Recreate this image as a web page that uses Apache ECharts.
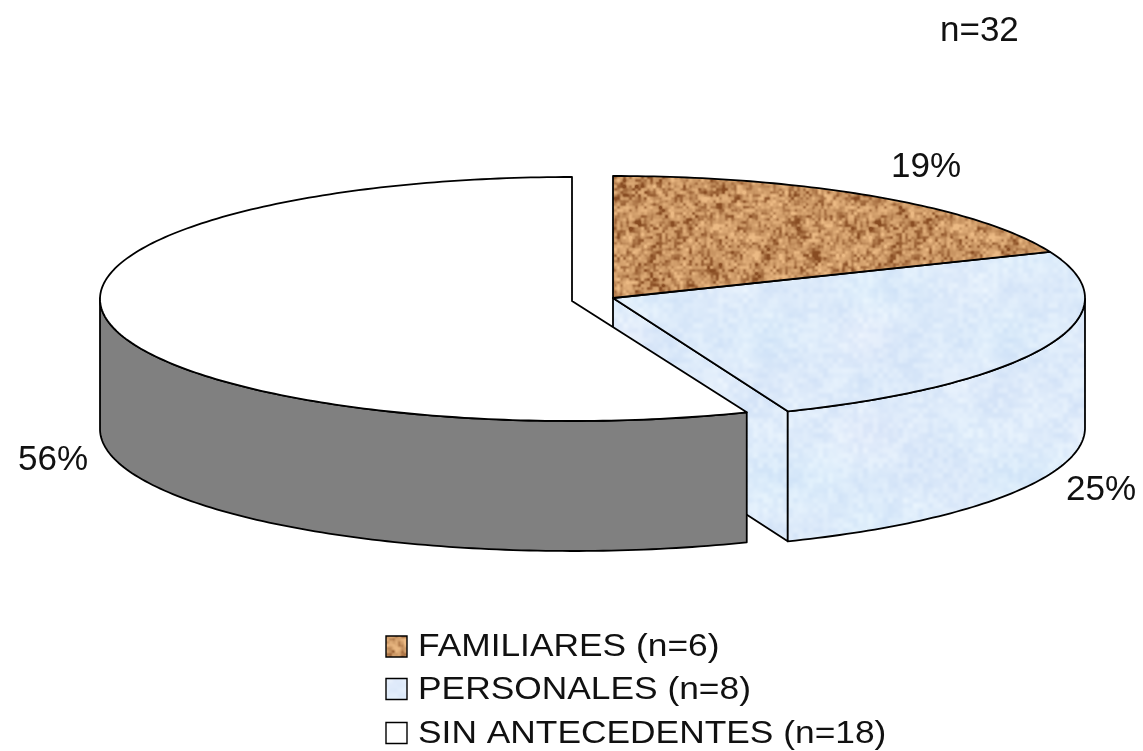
<!DOCTYPE html>
<html>
<head>
<meta charset="utf-8">
<style>
  html, body { margin: 0; padding: 0; background: #fff; }
  #chart { width: 1143px; height: 751px; }
</style>
<script src="https://cdn.jsdelivr.net/npm/echarts@6/dist/echarts.min.js"></script>
</head>
<body>
<div id="chart"></div>
<script>
// Antecedentes: casos por grupo
const categories = ['FAMILIARES', 'PERSONALES', 'SIN ANTECEDENTES'];
const cases = [6, 8, 18];

const total = cases.reduce((a, b) => a + b, 0);
const FONT = '"Liberation Sans", Arial, sans-serif';

// Pie projection: an ellipse for the top face, extruded downwards.
const RX = 472, RY = 122, DEPTH = 130;
const CENTER_RIGHT = { x: 613, y: 298 };   // the two joined slices
const CENTER_LEFT = { x: 572, y: 299 };    // the slice pulled out to the left
const APEX_DROP_LEFT = 2;
const PERSPECTIVE_DEG = 0.8;

// Tileable mottled fill built from hashed value noise.
function hash(x, y, seed) {
  let h = (x * 374761393 + y * 668265263 + seed * 2147483647) | 0;
  h = Math.imul(h ^ (h >>> 13), 1274126177);
  return ((h ^ (h >>> 16)) >>> 0) / 4294967295;
}
function noise(px, py, cell, size, seed) {
  const n = Math.round(size / cell);
  const fx = px / cell, fy = py / cell;
  const ix = Math.floor(fx), iy = Math.floor(fy);
  const tx = fx - ix, ty = fy - iy;
  const sx = tx * tx * (3 - 2 * tx), sy = ty * ty * (3 - 2 * ty);
  const v = (a, b) => hash(((a % n) + n) % n, ((b % n) + n) % n, seed);
  const top = v(ix, iy) * (1 - sx) + v(ix + 1, iy) * sx;
  const bot = v(ix, iy + 1) * (1 - sx) + v(ix + 1, iy + 1) * sx;
  return top * (1 - sy) + bot * sy;
}
function makeTexture(size, paint) {
  const canvas = document.createElement('canvas');
  canvas.width = canvas.height = size;
  const ctx = canvas.getContext('2d');
  const img = ctx.createImageData(size, size);
  for (let y = 0; y < size; y++) {
    for (let x = 0; x < size; x++) {
      const c = paint(x, y);
      const i = (y * size + x) * 4;
      img.data[i] = c[0]; img.data[i + 1] = c[1]; img.data[i + 2] = c[2]; img.data[i + 3] = 255;
    }
  }
  ctx.putImageData(img, 0, 0);
  return canvas;
}
const corkTexture = makeTexture(240, (x, y) => {
  const n = 0.45 * noise(x, y, 3, 240, 1) + 0.35 * noise(x, y, 6, 240, 2) + 0.2 * noise(x, y, 16, 240, 3);
  const t = Math.max(-1, Math.min(1, (n - 0.5) * 3.4));
  return t >= 0
    ? [198 + 38 * t, 146 + 40 * t, 96 + 36 * t]
    : [198 + 62 * t, 146 + 70 * t, 96 + 62 * t];
});
const paperTexture = makeTexture(240, (x, y) => {
  const n = 0.55 * noise(x, y, 5, 240, 4) + 0.45 * noise(x, y, 24, 240, 5);
  const p = noise(x, y, 48, 240, 6);
  const t = (n - 0.5) * 2.2;
  return [222 + 12 * t + 8 * (p - 0.5), 235 + 9 * t, 250 + 3 * t];
});

const pattern = (canvas) => ({ image: canvas, repeat: 'repeat' });
const fills = [pattern(corkTexture), pattern(paperTexture), '#ffffff'];
const WALL_GREY = '#808080';
const LINE = { stroke: '#000', lineWidth: 1.8, lineJoin: 'round' };

// Slice boundaries in degrees, clockwise from the top of the pie.
const bounds = [0];
cases.forEach((v) => bounds.push(bounds[bounds.length - 1] + v / total * 360));

function project(center, deg, drop) {
  const d = deg + PERSPECTIVE_DEG * (1 - Math.cos(deg * Math.PI / 180)) / 2;
  const a = d * Math.PI / 180;
  return [center.x + RX * Math.sin(a), center.y - RY * Math.cos(a) + (drop || 0)];
}
function arc(center, from, to, drop) {
  const pts = [];
  const steps = Math.max(2, Math.ceil(Math.abs(to - from)));
  for (let i = 0; i <= steps; i++) pts.push(project(center, from + (to - from) * i / steps, drop));
  return pts;
}
function poly(points, style) {
  return { type: 'polygon', shape: { points }, style: Object.assign({}, LINE, style) };
}

// Each slice draws its visible walls first, then its top face.
function sliceShapes(i) {
  const from = bounds[i], to = bounds[i + 1];
  const c = i === 2 ? CENTER_LEFT : CENTER_RIGHT;
  const apex = [c.x, c.y + (i === 2 ? APEX_DROP_LEFT : 0)];
  const shapes = [];
  if (i === 1) {
    const end = project(c, to);
    shapes.push(poly([apex, end, [end[0], end[1] + DEPTH], [apex[0], apex[1] + DEPTH]], { fill: fills[1] }));
    const outer = arc(c, 90, to);
    shapes.push(poly(outer.concat(arc(c, to, 90, DEPTH)), { fill: fills[1] }));
  }
  if (i === 2) {
    const outer = arc(c, from, 270);
    shapes.push(poly(outer.concat(arc(c, 270, from, DEPTH)), { fill: WALL_GREY }));
  }
  shapes.push(poly([apex].concat(arc(c, from, to)), { fill: fills[i] }));
  return shapes;
}

const drawOrder = [1, 0, 2];

// Percentage labels beside each slice
const labelLayout = [
  { x: 891, y: 167 },
  { x: 1066, y: 490 },
  { x: 18, y: 460 }
];
const percent = (v) => Math.round(v / total * 100) + '%';

const textEl = (x, y, text, size, scaleX) => ({
  type: 'text', x, y, scaleX: scaleX || 1, silent: true,
  style: { text, font: size + 'px ' + FONT, fill: '#111', align: 'left', verticalAlign: 'middle' }
});

// Legend rows
const legendLayout = { boxX: 386, textX: 418, rows: [646.5, 689, 733], box: 21 };
const legendTextDrop = 1;
const legendGraphics = [];
categories.forEach((name, i) => {
  const y = legendLayout.rows[i];
  legendGraphics.push({
    type: 'rect',
    shape: { x: legendLayout.boxX, y: y - legendLayout.box / 2, width: legendLayout.box, height: legendLayout.box },
    style: { fill: fills[i], stroke: '#000', lineWidth: 1.4 }
  });
  legendGraphics.push(textEl(legendLayout.textX, y + legendTextDrop, name + ' (n=' + cases[i] + ')', 31, 1.14));
});

const chart = echarts.init(document.getElementById('chart'), null, { renderer: 'canvas' });
chart.setOption({
  animation: false,
  backgroundColor: '#ffffff',
  series: [{
    type: 'custom',
    coordinateSystem: 'none',
    silent: true,
    clip: false,
    data: drawOrder.map((i) => [i, cases[i]]),
    renderItem: (params, api) => {
      const i = api.value(0);
      const label = Object.assign(
        textEl(labelLayout[i].x, labelLayout[i].y, percent(api.value(1)), 35),
        { z2: 10 });
      return { type: 'group', children: sliceShapes(i).concat([label]) };
    }
  }],
  graphic: legendGraphics.concat([textEl(940, 31, 'n=' + total, 35)])
});
</script>
</body>
</html>
